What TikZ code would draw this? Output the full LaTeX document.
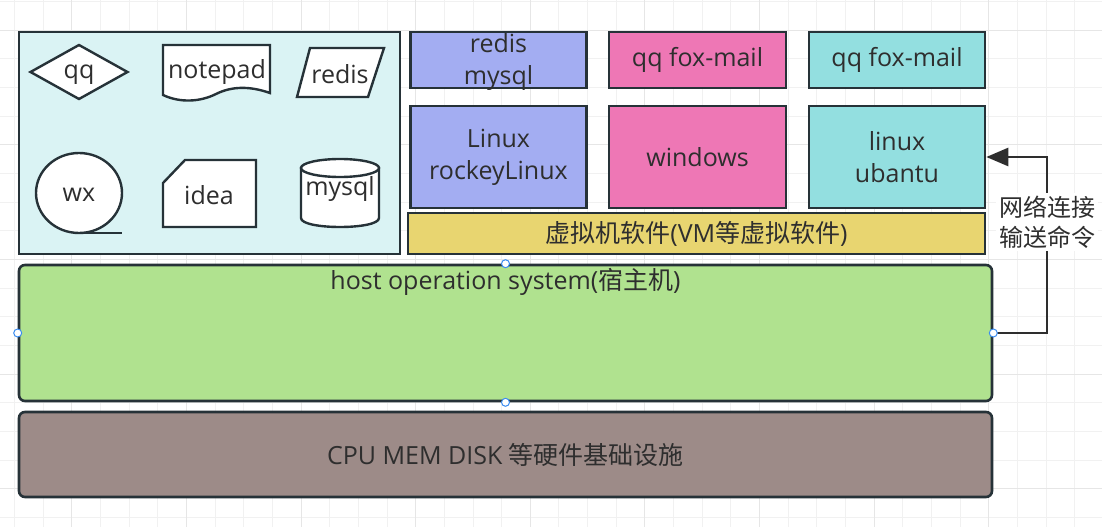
\documentclass[tikz,border=0pt]{standalone}
\usepackage{fontspec}
\setmainfont{Open Sans}
\newfontfamily\cjk{Noto Sans CJK SC}
\usetikzlibrary{arrows.meta,shapes.geometric}
\definecolor{edgegray}{HTML}{263238}
\definecolor{textgray}{HTML}{2E2E2E}
\definecolor{gridminor}{HTML}{F1F1F1}
\definecolor{gridmajor}{HTML}{E6E6E6}
\definecolor{panelcyan}{HTML}{DAF3F4}
\definecolor{vmblue}{HTML}{A3ADF2}
\definecolor{vmpink}{HTML}{EE77B5}
\definecolor{vmcyan}{HTML}{93DFE0}
\definecolor{vmyellow}{HTML}{E8D570}
\definecolor{hostgreen}{HTML}{B0E28F}
\definecolor{hwbrown}{HTML}{9D8B88}
\definecolor{handleblue}{HTML}{3B8CF0}

\begin{document}
\begin{tikzpicture}[x=1pt,y=-1pt,
    font=\fontsize{25}{32}\selectfont,
    every node/.style={text=textgray},
    gridline/.style={draw=gridminor,line width=0.8pt},
    gridbold/.style={draw=gridmajor,line width=0.9pt},
    box/.style={rectangle,draw=edgegray,line width=2.6pt,inner sep=0pt,align=center},
    shapeline/.style={draw=edgegray,line width=2.4pt,fill=white},
    lbl/.style={inner sep=0pt,align=center},
    handle/.style={circle,draw=handleblue,fill=white,line width=1pt,minimum size=8pt,inner sep=0pt},
    link/.style={draw=textgray,line width=2.6pt,-{Triangle[length=22pt,width=18pt]}}]
  \fill[white] (0,0) rectangle (1102,527);
  \useasboundingbox (0,0) rectangle (1102,527);
  % grid
  \foreach \i in {0,...,38}
    \draw[gridline] ({14.5+28.65*\i},0) -- ({14.5+28.65*\i},527);
  \foreach \j in {0,...,18}
    \draw[gridline] (0,{1.5+28.65*\j}) -- (1102,{1.5+28.65*\j});
  \foreach \i in {2,6,...,38}
    \draw[gridbold] ({14.5+28.65*\i},0) -- ({14.5+28.65*\i},527);
  \foreach \j in {1,5,...,17}
    \draw[gridbold] (0,{1.5+28.65*\j}) -- (1102,{1.5+28.65*\j});

  % programs on the host
  \node[box,fill=panelcyan,minimum width=381pt,minimum height=222pt] (apps) at (209.5,143) {};
  \node[diamond,aspect=1.8,draw=edgegray,line width=2.4pt,fill=white,minimum width=98pt,minimum height=55pt,inner sep=0pt] (qq) at (79,72) {};
  \node[lbl] (qqtxt) at (79,75) {qq};
  \draw[shapeline] (163,45) -- (270,45) -- (270,93) .. controls (250,86) and (232,86) .. (216,94) .. controls (200,102) and (180,103) .. (163,95) -- cycle;
  \node[lbl] (notepad) at (217,72) {notepad};
  \draw[shapeline] (310,48) -- (384,48) -- (368,97) -- (297,97) -- cycle;
  \node[lbl] (redis) at (340,74) {redis};
  \draw[shapeline] (79,193) ellipse [x radius=43, y radius=40];
  \draw[draw=edgegray,line width=2.4pt] (79,233) -- (122,233);
  \node[lbl] (wx) at (79,195) {wx};
  \draw[shapeline] (163,183) -- (185,160) -- (256,160) -- (256,227) -- (163,227) -- cycle;
  \node[lbl] (idea) at (209,195) {idea};
  \draw[shapeline] (301,168) -- (301,218) .. controls (301,230) and (379,230) .. (379,218) -- (379,168) -- cycle;
  \draw[shapeline] (340,168) ellipse [x radius=39, y radius=9];
  \node[lbl] (mysql) at (340,189) {mysql};

  % virtual machines
  \node[box,fill=vmblue,minimum width=176pt,minimum height=56pt] (vmapp1) at (498.5,60) {};
  \node[lbl] (vmapp1txt) at (498.5,62) {redis\\mysql};
  \node[box,fill=vmpink,minimum width=177pt,minimum height=56pt] (vmapp2) at (697.5,60) {qq fox-mail};
  \node[box,fill=vmcyan,minimum width=176pt,minimum height=56pt] (vmapp3) at (897,60) {qq fox-mail};
  \node[box,fill=vmblue,minimum width=176pt,minimum height=102pt] (rocky) at (498.5,157) {Linux\\rockeyLinux};
  \node[box,fill=vmpink,minimum width=177pt,minimum height=102pt] (windows) at (697.5,157) {windows};
  \node[box,fill=vmcyan,minimum width=176pt,minimum height=102pt] (ubantu) at (897,157) {linux\\ubantu};
  \node[box,fill=vmyellow,minimum width=577pt,minimum height=41pt] (vmsoft) at (696.5,233.5) {{\cjk 虚拟机软件}(VM{\cjk 等虚拟软件})};

  % host and hardware
  \node[box,fill=hostgreen,rounded corners=6pt,minimum width=973pt,minimum height=136pt] (hostos) at (505.5,333) {};
  \node[lbl] (hostostxt) at (505.5,282) {host operation system({\cjk 宿主机})};
  \node[box,fill=hwbrown,rounded corners=6pt,minimum width=973pt,minimum height=85pt] (hardware) at (505.5,454.5) {CPU MEM DISK {\cjk 等硬件基础设施}};

  % network command
  \coordinate (relay) at (1047,157);
  \draw[link] (hostos.east) -| (relay) -- (ubantu.east);
  \node[lbl,fill=white,inner sep=3pt,font=\fontsize{24}{30}\cjk] (cmd) at (1047,222) {网络连接\\输送命令};

  \node[handle] (htop) at (hostos.north) {};
  \node[handle] (hleft) at (hostos.west) {};
  \node[handle] (hright) at (hostos.east) {};
  \node[handle] (hbottom) at (hostos.south) {};
\end{tikzpicture}
\end{document}
